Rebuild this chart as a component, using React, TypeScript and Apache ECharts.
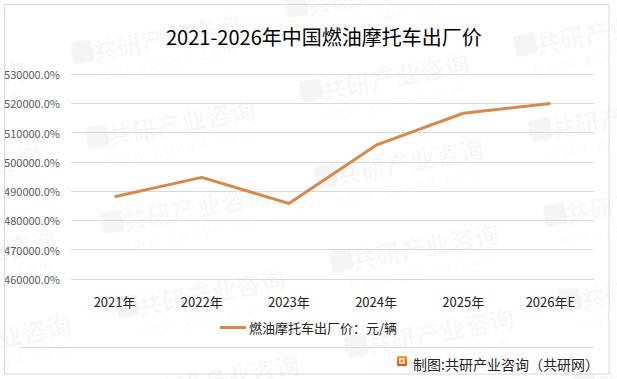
import React, { useEffect, useRef } from "react";
import * as echarts from "echarts";

const titleText = "2021-2026年中国燃油摩托车出厂价";
const categories = ["2021年", "2022年", "2023年", "2024年", "2025年", "2026年E"];
const seriesName = "燃油摩托车出厂价：元/辆";
const priceValues = [488100, 494700, 485800, 505700, 516600, 519900];
const yMin = 460000;
const yMax = 530000;
const yStep = 10000;
const footerText = "制图:共研产业咨询（共研网）";
const watermarkName = "共研产业咨询";
const watermarkSite = "w w w . g o n y n . c o m";

const FONT = "'Noto Sans CJK SC', 'Noto Sans', sans-serif";
const WM = "rgba(0,0,0,0.04)";

function watermarks() {
  const out: any[] = [];
  for (let i = -1; i <= 3; i++) {
    for (let j = -1; j <= 4; j++) {
      const cx = 158 + 229 * i + 15 * j;
      const cy = 38 + 39 * i + 85 * j;
      if (cx < -75 || cx > 670 || cy < -15 || cy > 390) continue;
      out.push({
        type: "group",
        x: cx,
        y: cy,
        rotation: 0.19,
        silent: true,
        z: 0,
        children: [
          {
            type: "rect",
            shape: { x: -88, y: -12, width: 22, height: 22, r: 4 },
            style: { fill: WM },
          },
          {
            type: "text",
            x: 8,
            y: 0,
            style: {
              text: watermarkName,
              font: `bold 25px ${FONT}`,
              fill: WM,
              align: "center",
              verticalAlign: "middle",
              textAlign: "center",
              textVerticalAlign: "middle",
            },
          },
          {
            type: "text",
            x: 0,
            y: 24,
            style: {
              text: watermarkSite,
              font: `14px ${FONT}`,
              fill: WM,
              align: "center",
              verticalAlign: "middle",
              textAlign: "center",
              textVerticalAlign: "middle",
            },
          },
        ],
      });
    }
  }
  return out;
}

export default function App() {
  const ref = useRef<HTMLDivElement>(null);
  useEffect(() => {
    if (!ref.current) return;
    const chart = echarts.init(ref.current, null, { renderer: "svg" });
    chart.setOption({
      animation: false,
      backgroundColor: "#ffffff",
      textStyle: { fontFamily: FONT },
      title: {
        text: titleText,
        left: 166,
        top: 26,
        padding: 0,
        textStyle: { fontSize: 20, fontWeight: "normal", color: "#000", fontFamily: FONT },
      },
      grid: { left: 71, right: 23, top: 74, bottom: 100, containLabel: false },
      legend: {
        data: [{ name: seriesName, icon: "rect" }],
        left: "center",
        top: 316,
        itemWidth: 26,
        itemHeight: 3,
        itemGap: 10,
        textStyle: { fontSize: 13, color: "#222", fontFamily: FONT, padding: [0, 0, 0, -2] },
      },
      xAxis: {
        type: "category",
        data: categories,
        boundaryGap: true,
        axisLine: { show: true, lineStyle: { color: "#d9d9d9" } },
        axisTick: { show: false },
        axisLabel: { fontSize: 13, color: "#222", margin: 16, fontFamily: FONT },
      },
      yAxis: {
        type: "value",
        min: yMin,
        max: yMax,
        interval: yStep,
        axisLine: { show: false },
        axisTick: { show: false },
        splitLine: { lineStyle: { color: "#d9d9d9", width: 1 } },
        axisLabel: {
          fontSize: 11,
          color: "#595959",
          margin: 11,
          fontFamily: FONT,
          formatter: (v: number) => v.toFixed(1) + "%",
        },
      },
      series: [
        {
          name: seriesName,
          type: "line",
          data: priceValues,
          symbol: "none",
          z: 5,
          lineStyle: { color: "#D6894D", width: 3 },
          itemStyle: { color: "#D6894D" },
        },
      ],
      graphic: [
        ...watermarks(),
        {
          type: "rect",
          silent: true,
          z: 10,
          shape: { x: 4.5, y: 4.5, width: 604.5, height: 369.5 },
          style: { fill: "none", stroke: "#d9d9d9", lineWidth: 1 },
        },
        {
          type: "line",
          silent: true,
          z: 10,
          shape: { x1: 20, y1: 347.5, x2: 594, y2: 347.5 },
          style: { stroke: "#d9d9d9", lineWidth: 1 },
        },
        {
          type: "group",
          x: 397,
          y: 356,
          z: 10,
          children: [
            {
              type: "rect",
              shape: { x: 0, y: 0, width: 10, height: 10, r: 1.5 },
              style: {
                fill: new echarts.graphic.LinearGradient(0, 0, 0, 1, [
                  { offset: 0, color: "#f7a21b" },
                  { offset: 1, color: "#e9441d" },
                ]),
              },
            },
            {
              type: "polyline",
              shape: { points: [[7.8, 2.8], [2.8, 2.8], [2.8, 7.2], [7.2, 7.2], [7.2, 5.2], [5.2, 5.2]] },
              style: { stroke: "#fff", lineWidth: 1.3, fill: "none" },
            },
          ],
        },
        {
          type: "text",
          x: 413,
          y: 364,
          z: 10,
          style: {
            text: footerText,
            font: `14px ${FONT}`,
            fill: "#222",
            align: "left",
            verticalAlign: "middle",
            textAlign: "left",
            textVerticalAlign: "middle",
          },
        },
      ],
    });
    return () => chart.dispose();
  }, []);
  return <div ref={ref} style={{ width: 617, height: 379, position: "absolute", left: 0, top: 0 }} />;
}
